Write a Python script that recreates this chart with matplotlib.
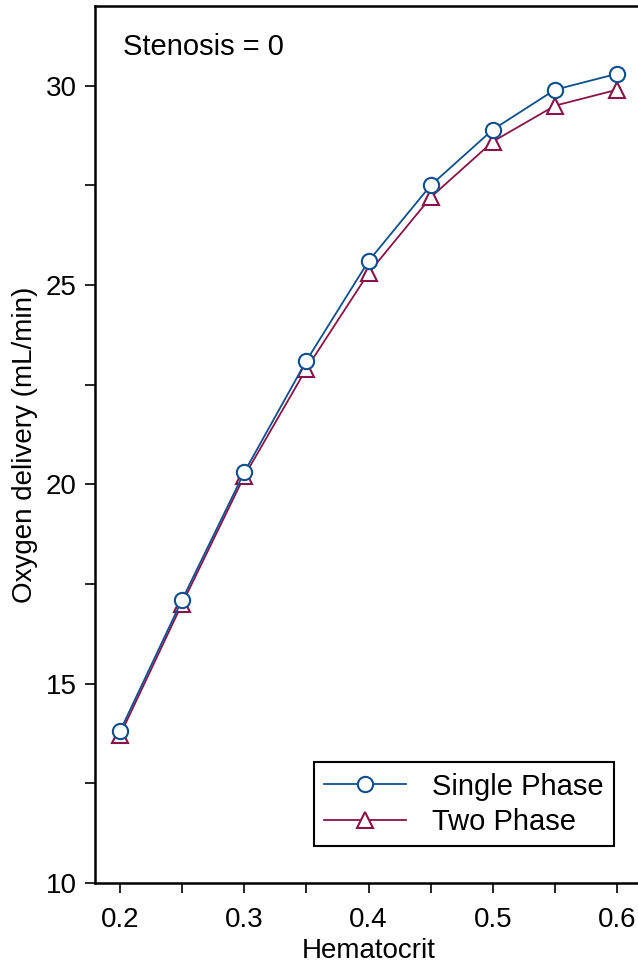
import numpy as np
import matplotlib
matplotlib.use('Agg')
import matplotlib.pyplot as plt
from matplotlib.ticker import MultipleLocator

# data
hematocrit = [0.2, 0.25, 0.3, 0.35, 0.4, 0.45, 0.5, 0.55, 0.6]
single_phase = [13.8, 17.1, 20.3, 23.1, 25.6, 27.5, 28.9, 29.9, 30.3]
two_phase = [13.7, 17.0, 20.2, 22.9, 25.3, 27.2, 28.6, 29.5, 29.9]

plt.rcParams['font.family'] = ['Liberation Sans', 'DejaVu Sans']
blue = '#0d4f8e'
maroon = '#8a1248'

fig = plt.figure(figsize=(6.38, 9.67), dpi=100)
ax = fig.add_axes([0.1489, 0.0869, 0.8575, 0.9069])

ax.plot(hematocrit, single_phase, color=blue, lw=1.3, marker='o', ms=11,
        mfc='white', mec=blue, mew=1.5, label='Single Phase', zorder=3)
ax.plot(hematocrit, two_phase, color=maroon, lw=1.3, marker='^', ms=11,
        mfc='white', mec=maroon, mew=1.5, label='Two Phase', zorder=2)

ax.set_xlim(0.18, 0.62)
ax.set_ylim(10, 32)
ax.xaxis.set_major_locator(MultipleLocator(0.1))
ax.xaxis.set_minor_locator(MultipleLocator(0.05))
ax.yaxis.set_major_locator(MultipleLocator(5))
ax.yaxis.set_minor_locator(MultipleLocator(2.5))
ax.xaxis.set_major_formatter(plt.FuncFormatter(lambda v, p: '%.1f' % v))
ax.tick_params(which='both', direction='out', length=7, width=1.2,
               top=False, right=False, labelsize=20)
ax.tick_params(axis='x', pad=10)
ax.tick_params(axis='y', pad=6)
for s in ax.spines.values():
    s.set_linewidth(1.8)

ax.set_xlabel('Hematocrit', fontsize=20, labelpad=4)
ax.set_ylabel('Oxygen delivery (mL/min)', fontsize=20, labelpad=6)

ax.text(0.051, 0.953, 'Stenosis = 0', transform=ax.transAxes,
        fontsize=21, va='center', ha='left')

leg = ax.legend(loc='lower left', bbox_to_anchor=(0.4, 0.042),
                fontsize=21, fancybox=False, framealpha=1, edgecolor='black',
                handlelength=2.8, handletextpad=0.9, borderpad=0.35,
                labelspacing=0.25, borderaxespad=0)
leg.get_frame().set_linewidth(1.5)

fig.savefig('out.png', dpi=100)
